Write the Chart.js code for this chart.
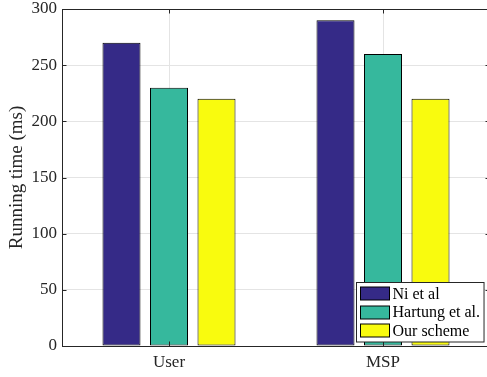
<!DOCTYPE html>
<html>
<head>
<meta charset="utf-8">
<script src="https://cdn.jsdelivr.net/npm/chart.js@4/dist/chart.umd.min.js"></script>
<style>
  html, body { margin: 0; padding: 0; background: #fff; overflow: hidden; width: 487px; height: 377px; }
  canvas { display: block; }
</style>
</head>
<body>
<canvas id="c" width="493" height="377"></canvas>
<script>
// Running time per role, in milliseconds
const categories = ['User', 'MSP'];
const seriesNames = ['Ni et al', 'Hartung et al.', 'Our scheme'];
const niEtAl = [270, 290];
const hartungEtAl = [230, 260];
const ourScheme = [220, 220];
const yTicks = [0, 50, 100, 150, 200, 250, 300];

const seriesColors = ['#352a87', '#36b89d', '#f9fb0e'];
const axisColor = '#262626';
const gridColor = '#e4e4e4';
const fontFamily = '"Liberation Serif", "Times New Roman", serif';

// Inward tick marks, the closed axes box and a boxed legend in the lower-right corner
const axesDecor = {
  id: 'axesDecor',
  afterDatasetsDraw(chart) {
    const { ctx, chartArea: a, scales } = chart;
    const len = 4.5;
    ctx.save();
    ctx.strokeStyle = axisColor;
    ctx.lineWidth = 1;
    ctx.beginPath();
    // top and right edges of the box
    ctx.moveTo(a.left, a.top + 0.5);
    ctx.lineTo(a.right, a.top + 0.5);
    ctx.moveTo(a.right - 0.5, a.top);
    ctx.lineTo(a.right - 0.5, a.bottom);
    // y ticks on both sides
    yTicks.forEach(v => {
      const y = Math.round(scales.y.getPixelForValue(v)) + 0.5;
      ctx.moveTo(a.left, y); ctx.lineTo(a.left + len, y);
      ctx.moveTo(a.right, y); ctx.lineTo(a.right - len, y);
    });
    // x ticks at category centres, bottom and top
    categories.forEach((c, i) => {
      const x = Math.round(scales.x.getPixelForValue(i)) + 0.5;
      ctx.moveTo(x, a.bottom); ctx.lineTo(x, a.bottom - len);
      ctx.moveTo(x, a.top); ctx.lineTo(x, a.top + len);
    });
    ctx.stroke();

    // legend
    const ds = chart.data.datasets;
    ctx.font = '16px ' + fontFamily;
    const textW = Math.max(...ds.map(d => ctx.measureText(d.label).width));
    const rowH = 18.5;
    const swW = 29, swH = 13;
    const padL = 4, gap = 2, padR = 5;
    const boxW = padL + swW + gap + textW + padR;
    const boxH = rowH * ds.length + 4;
    const bx = Math.round(a.right - 6 - boxW) + 0.5;
    const by = Math.round(a.bottom - 5 - boxH) + 0.5;
    ctx.fillStyle = '#ffffff';
    ctx.fillRect(bx, by, boxW, boxH);
    ctx.strokeStyle = axisColor;
    ctx.strokeRect(bx, by, boxW, boxH);
    ds.forEach((d, i) => {
      const cy = by + 2 + rowH * i + rowH / 2;
      ctx.fillStyle = d.backgroundColor;
      ctx.fillRect(bx + padL, Math.round(cy - swH / 2), swW, swH);
      ctx.strokeStyle = '#000';
      ctx.strokeRect(bx + padL, Math.round(cy - swH / 2), swW, swH);
      ctx.fillStyle = '#000';
      ctx.textBaseline = 'middle';
      ctx.textAlign = 'left';
      ctx.fillText(d.label, bx + padL + swW + gap + 1, cy + 1);
    });
    ctx.restore();
  }
};

const seriesValues = [niEtAl, hartungEtAl, ourScheme];

new Chart(document.getElementById('c'), {
  type: 'bar',
  data: {
    labels: categories,
    datasets: seriesNames.map((name, i) => ({
      label: name,
      data: seriesValues[i],
      backgroundColor: seriesColors[i],
      borderColor: '#000000',
      borderWidth: 1,
      borderSkipped: false,
      categoryPercentage: 0.666,
      barPercentage: 0.8
    }))
  },
  options: {
    responsive: false,
    animation: false,
    devicePixelRatio: 1,
    layout: { padding: { top: 9, right: 3, left: 0, bottom: 0 } },
    plugins: { legend: { display: false }, tooltip: { enabled: false } },
    scales: {
      x: {
        offset: true,
        grid: { display: true, offset: false, color: gridColor, drawTicks: false, tickLength: 0 },
        border: { display: true, color: axisColor, width: 1 },
        ticks: { color: axisColor, font: { family: fontFamily, size: 17 }, padding: 6 },
        afterFit(s) { s.height = 31; s.paddingLeft = 0; s.paddingRight = 0; }
      },
      y: {
        min: 0,
        max: 300,
        afterBuildTicks(s) { s.ticks = yTicks.map(v => ({ value: v })); },
        grid: { color: gridColor, drawTicks: false, tickLength: 0 },
        border: { display: true, color: axisColor, width: 1 },
        ticks: { color: axisColor, font: { family: fontFamily, size: 17 }, padding: 5 },
        title: {
          display: true,
          text: 'Running time (ms)',
          color: axisColor,
          font: { family: fontFamily, size: 19 },
          padding: { top: 6, bottom: 0 }
        },
        afterFit(s) { s.width = 62; s.paddingTop = 0; s.paddingBottom = 0; }
      }
    }
  },
  plugins: [axesDecor]
});
</script>
</body>
</html>
